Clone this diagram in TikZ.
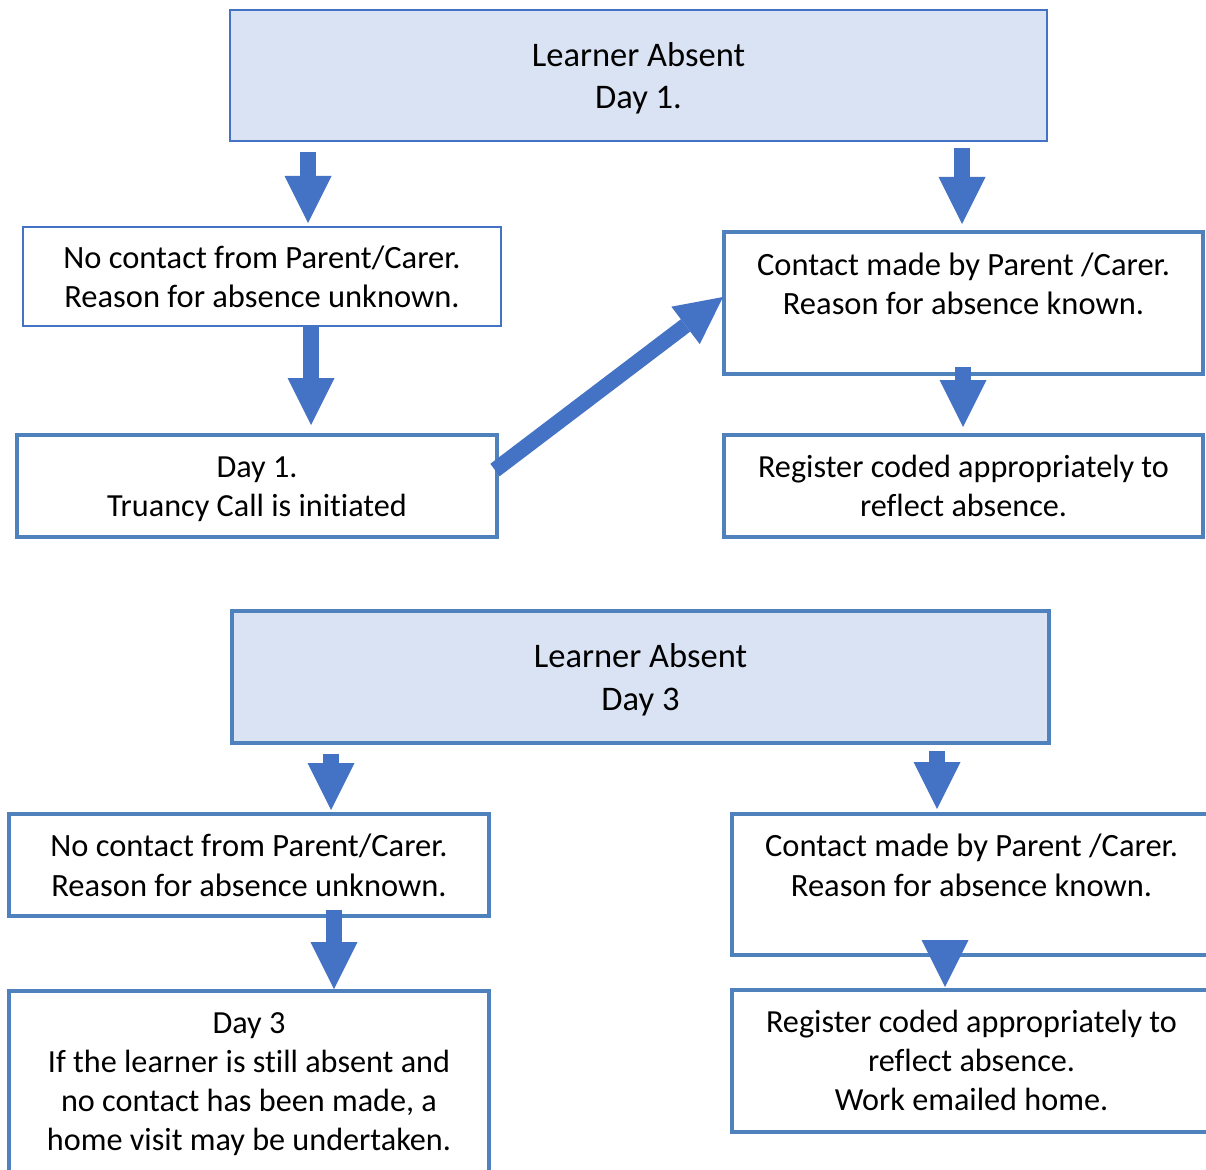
\documentclass[tikz,border=0pt]{standalone}
\usepackage{fontspec}
\setmainfont{Carlito}[Ligatures=CommonOff]
\usetikzlibrary{arrows.meta,calc}
\definecolor{arrowblue}{HTML}{4472C4}
\definecolor{thinblue}{HTML}{4472C4}
\definecolor{thickblue}{HTML}{4F81BD}
\definecolor{fillblue}{HTML}{DAE3F3}
\newcommand\boxtxt[4]{\parbox[t][#2][t]{#1}{\centering\rule{0pt}{#3}#4}}
\begin{document}
\begin{tikzpicture}[x=1pt,y=-1pt,
  flowbox/.style={draw=thickblue, line width=4.5pt, inner sep=0pt, outer sep=0pt, anchor=north west, fill=white, text=black},
  thinbox/.style={flowbox, draw=thinblue, line width=2.5pt},
  headbox/.style={fill=fillblue},
  lines/.style={font=\fontsize{32.5}{#1}\selectfont},
  slines/.style={font=\fontsize{32.2}{#1}\selectfont},
  tlines/.style={font=\fontsize{34.5}{#1}\selectfont},
  barrow/.style={draw=arrowblue, line width=15.5pt, line cap=butt,
    -{Triangle[length=47pt,width=47pt,line width=0pt]}}
]
\useasboundingbox (0,0) rectangle (1206,1169);
\fill[white] (0,0) rectangle (1206,1169);

% ---- Day 1 ----
\node[thinbox, headbox, tlines=41.5] (A) at (230,10)
  {\boxtxt{817pt}{131pt}{57pt}{Learner Absent\\Day 1.}};
\node[thinbox, lines=39] (B) at (23,227)
  {\boxtxt{478pt}{99pt}{41pt}{No contact from Parent/Carer.\\Reason for absence unknown.}};
\node[flowbox, lines=39] (C) at (724,232)
  {\boxtxt{479pt}{142pt}{43pt}{Contact made by Parent /Carer.\\Reason for absence known.}};
\node[flowbox, slines=39] (D) at (17,435)
  {\boxtxt{480pt}{102pt}{42pt}{Day 1.\\Truancy Call is initiated}};
\node[flowbox, slines=39] (E) at (724,435)
  {\boxtxt{479pt}{102pt}{42pt}{Register coded appropriately to\\reflect absence.}};

% ---- Day 3 ----
\node[flowbox, headbox, tlines=42.5] (F) at (232,611)
  {\boxtxt{817pt}{132pt}{56.5pt}{Learner Absent\\Day 3}};
\node[flowbox, lines=40] (G) at (9,814)
  {\boxtxt{480pt}{102pt}{42pt}{No contact from Parent/Carer.\\Reason for absence unknown.}};
\node[flowbox, lines=40] (H) at (732,814)
  {\boxtxt{479pt}{141pt}{42pt}{Contact made by Parent /Carer.\\Reason for absence known.}};
\node[flowbox, slines=39.3] (I) at (9,991)
  {\boxtxt{480pt}{200pt}{42pt}{Day 3\\If the learner is still absent and\\no contact has been made, a\\home visit may be undertaken.}};
\node[flowbox, slines=39.3] (J) at (732,990)
  {\boxtxt{479pt}{142pt}{42pt}{Register coded appropriately to\\reflect absence.\\Work emailed home.}};

% ---- arrow end points ----
\coordinate (a1s) at (308,152);  \coordinate (a1e) at (308,223);
\coordinate (a2s) at (962,148);  \coordinate (a2e) at (962,224);
\coordinate (a3s) at (311,327);  \coordinate (a3e) at (311,425);
\coordinate (a4s) at (963,367);  \coordinate (a4e) at (963,427);
\coordinate (dgs) at (495,470);  \coordinate (dge) at (723,297);
\coordinate (a5s) at (331,754);  \coordinate (a5e) at (331,810);
\coordinate (a6s) at (937,751);  \coordinate (a6e) at (937,809);
\coordinate (a7s) at (334,910);  \coordinate (a7e) at (334,989);
\coordinate (a8s) at (945,940);  \coordinate (a8e) at (945,987);

\draw[barrow] (a1s) -- (a1e);
\draw[barrow] (a2s) -- (a2e);
\draw[barrow] (a3s) -- (a3e);
\draw[barrow] (a4s) -- (a4e);
\draw[barrow] (dgs) -- (dge);
\draw[barrow] (a5s) -- (a5e);
\draw[barrow] (a6s) -- (a6e);
\draw[barrow] (a7s) -- (a7e);
\draw[barrow] (a8s) -- (a8e);
\end{tikzpicture}
\end{document}
